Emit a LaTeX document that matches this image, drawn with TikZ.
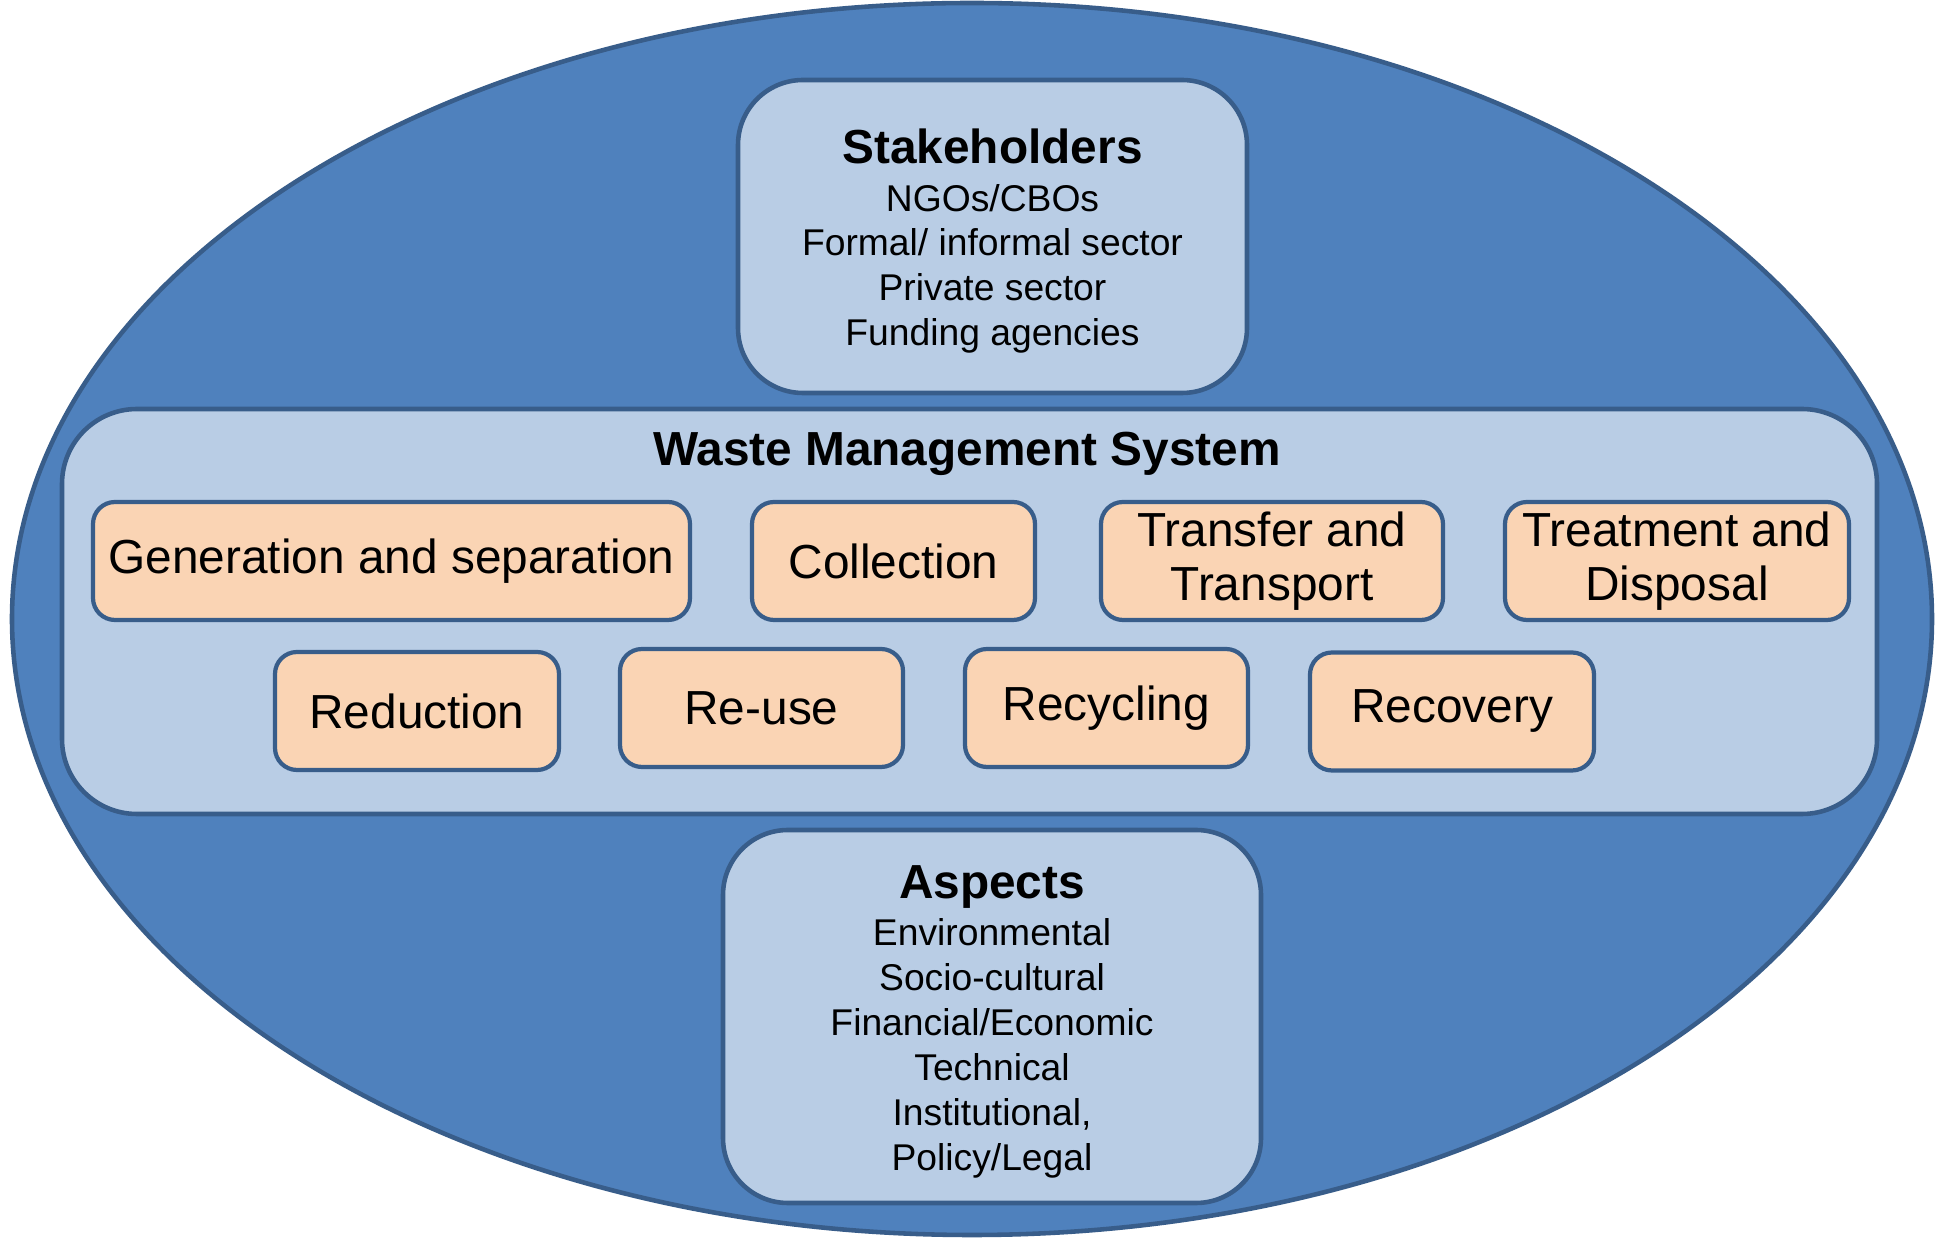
\documentclass[tikz,border=0pt]{standalone}
\usepackage{fontspec}
\setmainfont{Liberation Sans}
\usepackage{tikz}
\definecolor{wmsblue}{HTML}{4F81BD}
\definecolor{wmsedge}{HTML}{385D8A}
\definecolor{wmslight}{HTML}{B9CDE5}
\definecolor{wmspeach}{HTML}{FAD4B4}
\tikzset{
	panel/.style={fill=wmslight, draw=wmsedge, line width=1.3pt, rounded corners=0.65cm, inner sep=0pt},
	stage/.style={fill=wmspeach, draw=wmsedge, line width=1.2pt, rounded corners=0.22cm, minimum height=1.18cm, align=center, inner sep=0pt, font=\fontsize{13.6}{15.2}\selectfont},
	listtext/.style={align=center, inner sep=0pt, font=\fontsize{10.6}{12.8}\selectfont}
}
\newcommand{\paneltitle}[1]{{\fontsize{13.6}{14}\selectfont\bfseries #1}}

\begin{document}
\begin{tikzpicture}
		%%%%% START %%%%%
		
		\useasboundingbox[fill=white] (0, 0) rectangle (19.39, 12.38);
		
		% outer ellipse
		\draw[fill=wmsblue, draw=wmsedge, line width=1.3pt] (9.72, 6.19) ellipse (9.6 and 6.16);
		
		% stakeholders and aspects
		\node[panel, minimum width=5.09cm, minimum height=3.13cm] (stake) at (9.925, 10.015) {};
		\node[listtext] (staketext) at ([yshift=-0.05cm]stake.center) {\paneltitle{Stakeholders}\\[0.6pt]NGOs/CBOs\\Formal/ informal sector\\Private sector\\Funding agencies};
		\node[panel, minimum width=5.38cm, minimum height=3.73cm] (aspects) at (9.92, 2.215) {};
		\node[listtext] (aspectstext) at ([yshift=-0.05cm]aspects.center) {\paneltitle{Aspects}\\[0.6pt]Environmental\\Socio-cultural\\Financial/Economic\\Technical\\Institutional,\\Policy/Legal};
		
		% waste management system
		\node[panel, rounded corners=0.75cm, minimum width=18.15cm, minimum height=4.05cm] (wms) at (9.695, 6.265) {};
		\node (wmstitle) at (9.67, 7.84) {\paneltitle{Waste Management System}};
		
		\node[stage, minimum width=5.97cm] (gen) at (3.915, 6.77) {\raisebox{-0.6pt}{Generation and separation}};
		\node[stage, minimum width=2.83cm] (coll) at (8.935, 6.77) {Collection};
		\node[stage, minimum width=3.42cm] (trans) at (12.72, 6.77) {Transfer and\\Transport};
		\node[stage, minimum width=3.44cm] (treat) at (16.77, 6.77) {Treatment and\\Disposal};
		
		\node[stage, minimum width=2.84cm] (red) at (4.17, 5.27) {Reduction};
		\node[stage, minimum width=2.83cm] (reuse) at (7.615, 5.30) {Re-use};
		\node[stage, minimum width=2.83cm] (recyc) at (11.065, 5.30) {Recycling};
		\node[stage, minimum width=2.84cm] (recov) at (14.52, 5.265) {Recovery};
		
		%%%%% END %%%%%
	\end{tikzpicture}
\end{document}
